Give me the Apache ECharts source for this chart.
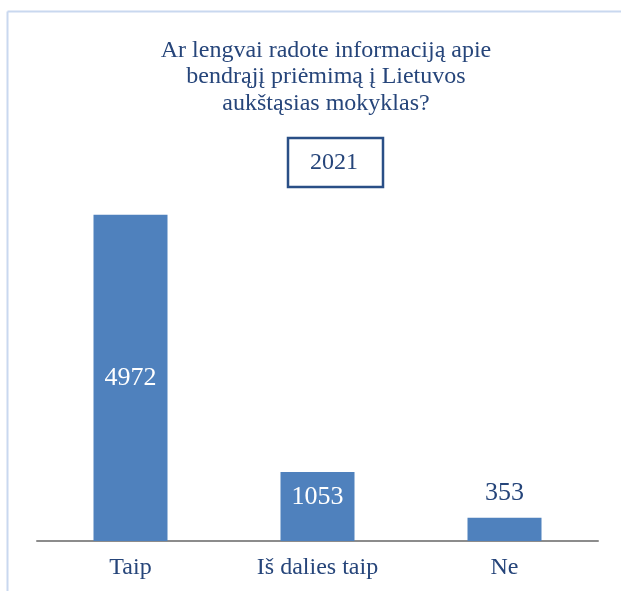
<!DOCTYPE html>
<html>
<head>
<meta charset="utf-8">
<script src="https://cdn.jsdelivr.net/npm/echarts@6/dist/echarts.min.js"></script>
<style>
  html, body { margin: 0; padding: 0; background: #fff; }
  #chart { width: 621px; height: 591px; }
</style>
</head>
<body>
<div id="chart"></div>
<script>
const categories = ['Taip', 'Iš dalies taip', 'Ne']
const answers = [4972, 1053, 353]
const yearLabel = '2021'
const titleText = 'Ar lengvai radote informaciją apie\nbendrąjį priėmimą į Lietuvos\naukštąsias mokyklas?'

const textBlue = '#26457a'
const serif = '"Liberation Serif", "Times New Roman", serif'

// label placement per bar, like in the original picture
const labelPlace = [
  { position: 'inside', color: '#fff' },
  { position: 'insideTop', distance: 12, color: '#fff' },
  { position: 'top', distance: 12, color: textBlue }
]

let myChart = echarts.init(document.getElementById('chart'))

const option = {
  animation: false,
  title: {
    text: titleText,
    left: 321,
    top: 32,
    textAlign: 'center',
    textStyle: {
      fontFamily: serif,
      fontSize: 24,
      fontWeight: 'normal',
      color: textBlue,
      lineHeight: 26.5
    }
  },
  graphic: [
    // light frame around the chart area
    { type: 'line', shape: { x1: 7.5, y1: 11.5, x2: 621, y2: 11.5 }, style: { stroke: '#c9d8ef', lineWidth: 2 } },
    { type: 'line', shape: { x1: 7.5, y1: 11.5, x2: 7.5, y2: 591 }, style: { stroke: '#c9d8ef', lineWidth: 2 } },
    // year box
    {
      type: 'rect',
      shape: { x: 288, y: 138, width: 95, height: 49 },
      style: { fill: '#fff', stroke: '#2a4f86', lineWidth: 2.5 }
    },
    {
      type: 'text',
      x: 334, y: 163,
      style: {
        text: yearLabel, fill: textBlue, font: '24px ' + serif,
        align: 'center', verticalAlign: 'middle'
      }
    }
  ],
  grid: { left: 37, right: 23, top: 213, bottom: 50 },
  xAxis: {
    type: 'category',
    data: categories,
    axisLine: { lineStyle: { color: '#8c8c8c', width: 2 } },
    axisTick: { show: false },
    axisLabel: {
      fontFamily: serif,
      fontSize: 24,
      color: textBlue,
      margin: 15
    }
  },
  yAxis: {
    type: 'value',
    min: 0,
    max: 5000,
    show: false,
    splitLine: { show: false }
  },
  series: [{
    type: 'bar',
    data: answers.map((v, i) => ({ value: v, label: labelPlace[i] })),
    barWidth: 74,
    itemStyle: { color: '#4f81bd' },
    label: {
      show: true,
      fontFamily: serif,
      fontSize: 26
    }
  }]
}
myChart.setOption(option)

window.addEventListener('resize', () => {
  myChart.resize()
})
</script>
</body>
</html>
